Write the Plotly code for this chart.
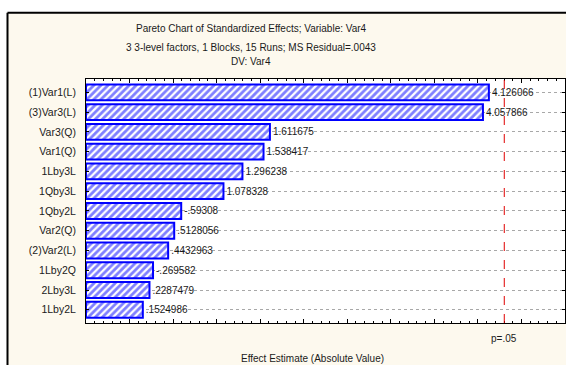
import plotly.graph_objects as go

# Effects, listed from largest to smallest absolute standardized effect
effects = ["(1)Var1(L)", "(3)Var3(L)", "Var3(Q)", "Var1(Q)", "1Lby3L", "1Qby3L",
           "1Qby2L", "Var2(Q)", "(2)Var2(L)", "1Lby2Q", "2Lby3L", "1Lby2L"]
estimates = [4.126066, 4.057866, 1.611675, 1.538417, 1.296238, 1.078328,
             -0.59308, 0.5128056, 0.4432963, -0.269582, 0.2287479, 0.1524986]
p_crit = 4.302653  # t(0.975, df=2), the p=.05 significance line
x_min, x_max = -0.5, 5.0

title_lines = ["Pareto Chart of Standardized Effects; Variable: Var4",
               "3 3-level factors, 1 Blocks, 15 Runs; MS Residual=.0043",
               "DV: Var4"]


def stat_fmt(v):
    s = repr(v)
    return s.replace("-0.", "-.") if s.startswith("-0.") else (s[1:] if s.startswith("0.") else s)


abs_vals = [abs(v) for v in estimates]
labels = [stat_fmt(v) for v in estimates]

FONT = "Liberation Sans, Arial, sans-serif"
BLUE = "#0000FF"
INK = "#1A1A1A"

fig = go.Figure()
fig.add_trace(go.Bar(
    y=effects,
    x=[a - x_min for a in abs_vals],
    base=x_min,
    orientation="h",
    width=0.8,
    marker=dict(
        color="white",
        line=dict(color=BLUE, width=2),
        pattern=dict(shape="/", fgcolor=BLUE, bgcolor="white", size=5, solidity=0.55),
    ),
    text=labels,
    textposition="outside",
    constraintext="none",
    cliponaxis=False,
    textfont=dict(family=FONT, size=10, color=INK),
    hoverinfo="skip",
))

# plot-area pixel geometry helpers (margins below)
L, R, T, B = 86, 1, 79, 42
W, H = 566, 365
pw, ph = W - L - R, H - T - B


def px_x(px):
    return (px - L) / pw


def px_y(py):
    return 1 + (T - py) / ph


shapes = [
    # white surround outside the framed panel
    dict(type="rect", xref="paper", yref="paper", x0=px_x(-5), x1=px_x(7.5),
         y0=px_y(400), y1=px_y(-5), fillcolor="white", line=dict(width=0), layer="below"),
    dict(type="rect", xref="paper", yref="paper", x0=px_x(-5), x1=px_x(600),
         y0=px_y(12.7), y1=px_y(-5), fillcolor="white", line=dict(width=0), layer="below"),
    # panel frame
    dict(type="line", xref="paper", yref="paper", x0=px_x(7.5), x1=px_x(7.5),
         y0=px_y(400), y1=px_y(12.7), line=dict(color="black", width=2), layer="below"),
    dict(type="line", xref="paper", yref="paper", x0=px_x(7.5), x1=px_x(600),
         y0=px_y(12.7), y1=px_y(12.7), line=dict(color="black", width=2), layer="below"),
    # p=.05 critical value line
    dict(type="line", xref="x", yref="paper", x0=p_crit, x1=p_crit, y0=0, y1=1,
         line=dict(color="#E00000", width=1, dash="dash")),
]

annotations = [
    dict(text=title_lines[0], x=px_x(251), y=px_y(29)),
    dict(text=title_lines[1], x=px_x(251), y=px_y(47)),
    dict(text=title_lines[2], x=px_x(251), y=px_y(62)),
    dict(text="Effect Estimate (Absolute Value)", x=px_x(312), y=px_y(358)),
]
for a in annotations:
    a.update(xref="paper", yref="paper", showarrow=False, xanchor="center",
             yanchor="middle", font=dict(family=FONT, size=10, color=INK))
annotations.append(dict(text="p=.05", x=p_crit, xref="x", y=px_y(338), yref="paper",
                        showarrow=False, xanchor="center", yanchor="middle",
                        font=dict(family=FONT, size=10, color=INK)))

fig.update_layout(
    width=W, height=H,
    margin=dict(l=L, r=R, t=T, b=B, pad=0),
    paper_bgcolor="#FDF9EE",
    plot_bgcolor="white",
    showlegend=False,
    shapes=shapes,
    annotations=annotations,
    font=dict(family=FONT, size=10, color=INK),
    xaxis=dict(
        range=[x_min, x_max], showgrid=False, zeroline=False,
        showline=True, linecolor="black", linewidth=1, mirror="ticks",
        ticks="inside", ticklen=4, tickcolor="black", dtick=0.5, tick0=0,
        showticklabels=False,
        minor=dict(ticks="inside", ticklen=2, dtick=0.1, tickcolor="black"),
    ),
    yaxis=dict(
        type="category", categoryorder="array", categoryarray=effects,
        range=[11.67, -0.68],
        showline=True, linecolor="black", linewidth=1, mirror="ticks",
        ticks="inside", ticklen=3, tickcolor="black",
        showgrid=True, gridcolor="#A8A8A8", griddash="dot", gridwidth=1,
        ticklabelstandoff=7,
        tickfont=dict(family=FONT, size=10.5, color=INK),
    ),
)

fig.write_html("out.html")
